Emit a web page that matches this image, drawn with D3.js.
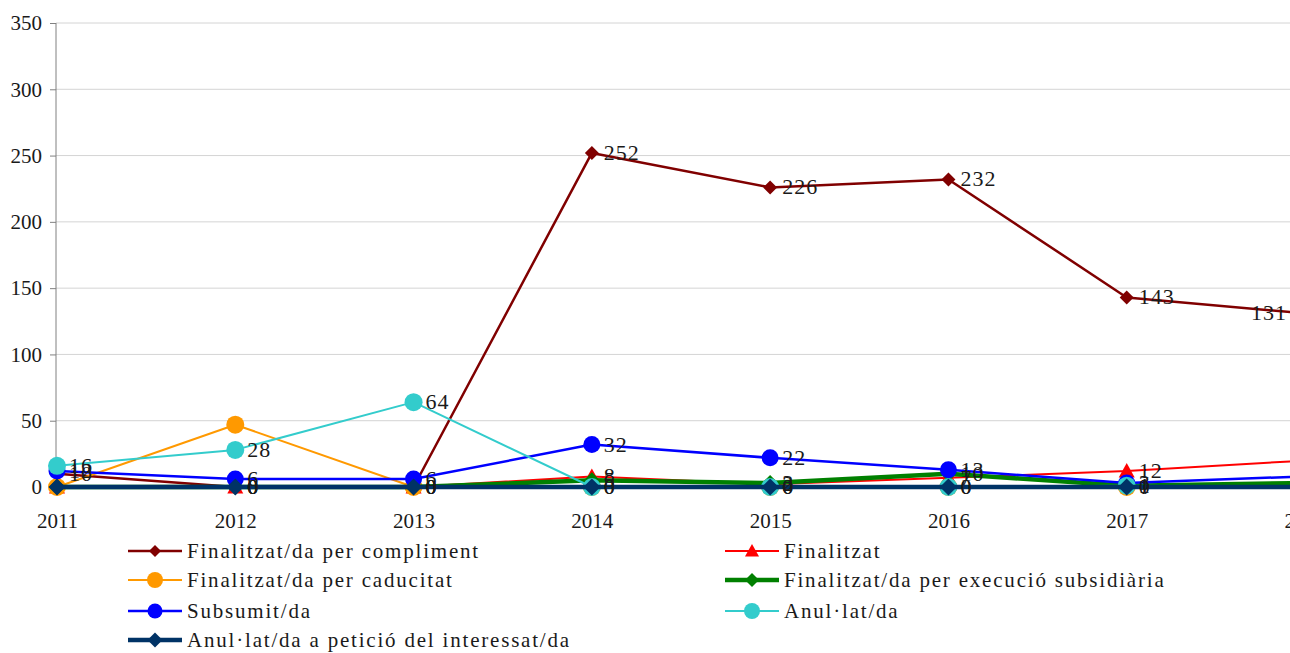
<!DOCTYPE html>
<html><head><meta charset="utf-8">
<script src="https://cdn.jsdelivr.net/npm/d3@7"></script>
<style>
html,body{margin:0;padding:0;background:#fff;overflow:hidden;width:1290px;height:653px;}
</style></head>
<body><svg id="c" width="1330" height="653" font-family="Liberation Serif, Times New Roman, serif"></svg>
<script>
const years = ["2011","2012","2013","2014","2015","2016","2017","2018"];
const yTicks = [0,50,100,150,200,250,300,350];

const compliment   = [10, 0, 0, 252, 226, 232, 143, 131];
const finalitzat   = [0, 0, 0, 8, 2, 7, 12, 20];
const caducitat    = [0, 47, 0, 0, 0, 0, 0, 0];
const subsidiaria  = [0, 0, 0, 5, 3, 10, 1, 3];
const subsumit     = [12, 6, 6, 32, 22, 13, 3, 8];
const anullat      = [16, 28, 64, 0, 0, 0, 1, 0];
const peticio      = [0, 0, 0, 0, 0, 0, 0, 0];

const seriesNames = ["Finalitzat/da per compliment","Finalitzat","Finalitzat/da per caducitat",
  "Finalitzat/da per execució subsidiària","Subsumit/da","Anul·lat/da","Anul·lat/da a petició del interessat/da"];
const seriesValues = [compliment, finalitzat, caducitat, subsidiaria, subsumit, anullat, peticio];
const seriesColors = ["#800000","#ff0000","#ff9900","#008000","#0000ff","#33cccc","#003366"];
const seriesMarkers = ["diamond","triangle","circle","diamond","circle","circle","diamond"];
const seriesWidths = [2.5, 2, 2, 4.5, 2.5, 2, 4.5];
const markerSizes = [7, 8, 9, 8, 8.5, 9, 8.5];
const seriesLabels = [true, true, false, true, true, true, true];
const FONT = "Liberation Serif, Times New Roman, serif";

const svg = d3.select("#c");
const x = d3.scalePoint().domain(years).range([57, 1305]);
const y = d3.scaleLinear().domain([0, 350]).range([487, 23]);

// gridlines
svg.append("g").selectAll("line").data(yTicks.filter(d=>d>0)).join("line")
  .attr("x1", 56).attr("x2", 1330).attr("y1", d=>y(d)).attr("y2", d=>y(d))
  .attr("stroke", "#d4d4d4").attr("stroke-width", 1);

// y axis
const yAxis = svg.append("g").attr("transform","translate(56,0)")
  .call(d3.axisLeft(y).tickValues(yTicks).tickSize(6).tickPadding(8));
yAxis.attr("font-family", FONT);
yAxis.select(".domain").attr("stroke","#808080").attr("d","M0,23V487");
yAxis.selectAll(".tick line").attr("stroke","#808080");
yAxis.selectAll(".tick text").attr("font-size",21).attr("font-family",FONT).attr("fill","#1a1a1a");

// x axis labels
const xAxis = svg.append("g").attr("transform","translate(0,487)")
  .call(d3.axisBottom(x).tickSize(0).tickPadding(26));
xAxis.attr("font-family", FONT);
xAxis.select(".domain").remove();
xAxis.selectAll(".tick text").attr("font-size",21).attr("font-family",FONT).attr("fill","#1a1a1a");

function markerPath(type, r){
  if(type==="diamond") return `M0,${-r}L${r},0L0,${r}L${-r},0Z`;
  if(type==="triangle") return `M0,${-r}L${r},${r*0.8}L${-r},${r*0.8}Z`;
  return d3.symbol().type(d3.symbolCircle).size(Math.PI*r*r)();
}

const line = d3.line().x((d,i)=>x(years[i])).y(d=>y(d));
const plot = svg.append("g");
seriesValues.forEach((vals, s)=>{
  const g = plot.append("g");
  g.append("path").attr("d", line(vals)).attr("fill","none")
    .attr("stroke", seriesColors[s]).attr("stroke-width", seriesWidths[s]).attr("stroke-linejoin","round");
  g.selectAll("path.m").data(vals).join("path").attr("class","m")
    .attr("transform",(d,i)=>`translate(${x(years[i])},${y(d)})`)
    .attr("d", markerPath(seriesMarkers[s], markerSizes[s]))
    .attr("fill", seriesColors[s]);
});
// data labels
const labelG = svg.append("g").attr("font-family", FONT).attr("font-size", 22).attr("fill","#1a1a1a");
seriesValues.forEach((vals, s)=>{
  if(!seriesLabels[s]) return;
  vals.forEach((v,i)=>{
    const px = x(years[i]);
    if(i===0 && v===0) return;
    if(px > 1280){
      if(s!==0) return;
      labelG.append("text").attr("x", px-18).attr("y", y(v)+7).attr("text-anchor","end")
        .attr("font-family", FONT).attr("letter-spacing",1).text(v);
    } else {
      labelG.append("text").attr("x", px+12).attr("y", y(v)+7)
        .attr("font-family", FONT).attr("letter-spacing",1).text(v);
    }
  });
});

// legend
const legendPos = [[128,551],[725,551],[128,580],[725,580],[128,611],[725,611],[128,640]];
const leg = svg.append("g");
seriesNames.forEach((name,s)=>{
  const [lx,ly] = legendPos[s];
  const g = leg.append("g").attr("transform",`translate(${lx},${ly})`);
  g.append("line").attr("x1",0).attr("x2",54).attr("stroke",seriesColors[s]).attr("stroke-width",seriesWidths[s]);
  g.append("path").attr("transform","translate(27,0)").attr("d",markerPath(seriesMarkers[s], markerSizes[s]-1)).attr("fill",seriesColors[s]);
  g.append("text").attr("x",59).attr("y",7).attr("font-family",FONT).attr("font-size",21)
    .attr("letter-spacing",1.8).attr("fill","#1a1a1a").text(name);
});
</script></body></html>
